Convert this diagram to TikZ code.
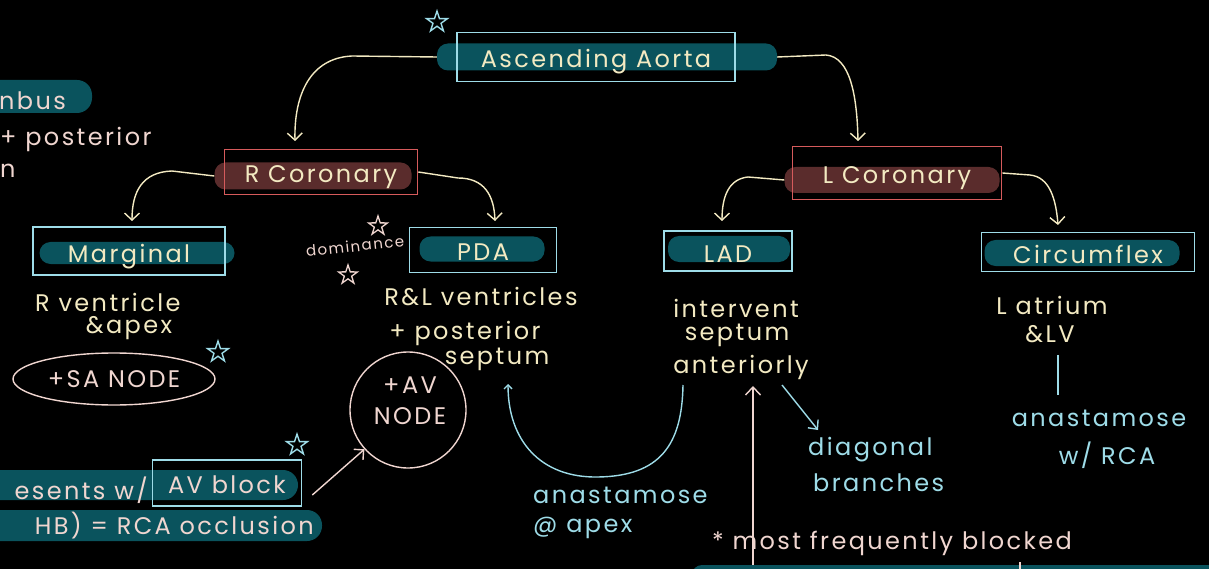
\documentclass[tikz,border=0pt]{standalone}
\usepackage{fontspec}
\setmainfont{Poppins}[LetterSpace=10]
\usetikzlibrary{arrows.meta,shapes.geometric,calc}

\definecolor{cream}{HTML}{F3EAC2}
\definecolor{pinkish}{HTML}{F0D6D0}
\definecolor{lblue}{HTML}{9EDCE8}
\definecolor{tealbg}{HTML}{0A535D}
\definecolor{maroonbg}{HTML}{5A2C2C}
\definecolor{redline}{HTML}{D65B5C}

\newcommand\lblsize{\fontsize{24}{26}\selectfont}
\newcommand\bodysize{\fontsize{24}{26}\selectfont}
\newcommand\smallsize{\fontsize{15}{17}\selectfont}

\tikzset{
  bluebox/.style={draw=lblue, line width=1.6pt, inner sep=0pt, text=cream, font=\lblsize,
    text height=22pt, text depth=0pt},
  redbox/.style={draw=redline, line width=1.6pt, inner sep=0pt, text=cream, font=\lblsize,
    text height=22pt, text depth=0pt},
  tealbar/.style={fill=tealbg, rounded corners=11pt, inner sep=0pt},
  maroonbar/.style={fill=maroonbg, rounded corners=11pt, inner sep=0pt},
  conn/.style={draw=cream, line width=1.4pt, -{Straight Barb[length=7pt,width=15pt]}},
  blueconn/.style={draw=lblue, line width=1.4pt},
  pinkconn/.style={draw=pinkish, line width=1.4pt},
  ctxt/.style={text=cream, font=\bodysize, inner sep=0pt},
  btxt/.style={text=lblue, font=\bodysize, inner sep=0pt},
  ptxt/.style={text=pinkish, font=\bodysize, inner sep=0pt},
  bstar/.style={star, star points=5, star point ratio=2.6, draw=lblue, line width=1.4pt, minimum size=22pt, inner sep=0pt},
  pstar/.style={star, star points=5, star point ratio=2.6, draw=pinkish, line width=1.3pt, minimum size=20pt, inner sep=0pt},
}

\begin{document}
\begin{tikzpicture}[x=1pt,y=-1pt]
\fill[black] (0,0) rectangle (1209,569);
\useasboundingbox (0,0) rectangle (1209,569);
\clip (0,0) rectangle (1209,569);

% ---------- top-left notes, running off the page ----------
\fill[tealbg, rounded corners=15pt] (-40,80) rectangle (92,113);
\node[ptxt, anchor=east] (tl1) at (66,101) {nbus};
\node[ptxt, anchor=west] (tl2) at (0,139) {+ posterior};
\node[ptxt, anchor=west] (tl3) at (0,171) {n};

% ---------- ascending aorta ----------
\node[tealbar, minimum width=340pt, minimum height=27pt] (aortabar) at (607,57) {};
\node[bluebox, minimum width=278pt, minimum height=49pt] (aorta) at (596,57) {Ascending Aorta};
\node[bstar] (aortastar) at (437,22) {};

% ---------- right coronary ----------
\node[maroonbar, minimum width=197pt, minimum height=27pt] (rcorbar) at (313,176) {};
\node[redbox, minimum width=193pt, minimum height=45pt] (rcor) at (321,172) {R Coronary};

% ---------- left coronary ----------
\node[maroonbar, minimum width=215pt, minimum height=26pt] (lcorbar) at (892,180) {};
\node[redbox, minimum width=209pt, minimum height=53pt] (lcor) at (897,173) {L Coronary};

\coordinate (rcorin) at (295,141);
\coordinate (lcorin) at (858,141);
\draw[conn] (aortabar.west) -- (352,56) .. controls (310,58) and (294,95) .. (rcorin);
\draw[conn] (aortabar.east) -- (826,55) .. controls (850,57) and (857,95) .. (lcorin);

% ---------- branches ----------
\node[tealbar, minimum width=195pt, minimum height=22pt] (margbar) at (137,253) {};
\node[bluebox, minimum width=192pt, minimum height=48pt] (marg) at (129,251) {Marginal};

\node[tealbar, minimum width=125pt, minimum height=25pt] (pdabar) at (482,249) {};
\node[bluebox, minimum width=147pt, minimum height=45pt] (pda) at (483,250) {PDA};

\node[tealbar, minimum width=122pt, minimum height=26pt] (ladbar) at (729,249) {};
\node[bluebox, minimum width=128pt, minimum height=40pt] (lad) at (728,251) {LAD};

\node[tealbar, minimum width=195pt, minimum height=26pt] (cxbar) at (1082,253) {};
\node[bluebox, minimum width=213pt, minimum height=39pt] (cx) at (1088,252) {Circumflex};

\coordinate (margin) at (132,221);
\coordinate (pdain) at (495,221);
\coordinate (ladin) at (722,221);
\coordinate (cxin) at (1058,225);
\draw[conn] (rcorbar.west) -- (172,171) .. controls (142,172) and (132,192) .. (margin);
\draw[conn] (rcor.east) -- (458,178) .. controls (484,178) and (494,195) .. (pdain);
\draw[conn] (lcorbar.west) -- (748,177) .. controls (729,179) and (722,196) .. (ladin);
\draw[conn] (lcor.east) -- (1030,175) .. controls (1050,177) and (1056,200) .. (cxin);

% ---------- marginal territory ----------
\node[ctxt, anchor=west] (margt1) at (35,302) {R ventricle};
\node[ctxt] (margt2) at (129,328) {\&apex};
\node[draw=pinkish, line width=1.4pt, ellipse, minimum width=202pt, minimum height=52pt, inner sep=0pt,
      text=pinkish, font=\bodysize] (sanode) at (114,379) {+SA NODE};
\node[bstar] (sastar) at (218,352) {};

% ---------- PDA territory ----------
\node[text=pinkish, font=\smallsize, inner sep=0pt, rotate=6] (dom) at (355,246) {dominance};
\node[pstar] (domstar1) at (378,226) {};
\node[pstar] (domstar2) at (348,275) {};
\node[ctxt] (pdat1) at (481,297) {R\&L ventricles};
\node[ctxt] (pdat2) at (465,333) {+ posterior};
\node[ctxt] (pdat3) at (497,359) {septum};
\node[draw=pinkish, line width=1.4pt, circle, minimum size=116pt, inner sep=0pt] (avnode) at (408,410) {};
\node[ptxt, align=center, font=\fontsize{24}{31}\selectfont] (avtxt) at (410,401) {+AV\\NODE};

% ---------- AV block note ----------
\fill[tealbg, rounded corners=15pt] (-40,470) rectangle (298,500);
\fill[tealbg, rounded corners=15pt] (-40,510) rectangle (322,541);
\node[ptxt, anchor=east] (avb1) at (148,490) {esents w/};
\node[draw=lblue, line width=1.6pt, minimum width=149pt, minimum height=46pt, inner sep=0pt,
      text=pinkish, font=\bodysize, text height=21pt, text depth=0pt] (avblock) at (227,483) {AV block};
\node[ptxt, anchor=east] (avb2) at (314,526) {HB) = RCA occlusion};
\node[bstar] (avbstar) at (297,445) {};
\draw[pinkconn, -{Straight Barb[length=7pt,width=14pt]}] (avblock.east) ++(10,12) -- (avnode.222);

% ---------- LAD territory ----------
\node[ctxt] (ladt1) at (736,308) {intervent};
\node[ctxt] (ladt2) at (737,335) {septum};
\node[ctxt] (ladt3) at (741,367) {anteriorly};
\coordinate (ladbot) at (683,385);
\coordinate (pdabot) at (508,384);
\draw[blueconn, -{Straight Barb[length=4pt,width=8pt]}] (ladbot) .. controls (682,445) and (660,476) .. (598,477)
      .. controls (540,478) and (508,440) .. (pdabot);
\node[btxt, anchor=west] (an1) at (533,495) {anastamose};
\node[btxt, anchor=west] (an2) at (533,528) {@ apex};

\coordinate (diagfrom) at (782,385);
\node[btxt, anchor=west] (diag1) at (808,450) {diagonal};
\node[btxt, anchor=west] (diag2) at (813,483) {branches};
\draw[blueconn, -{Straight Barb[length=7pt,width=13pt]}] (diagfrom) -- (818,430);

\coordinate (upfrom) at (753,575);
\coordinate (upto) at (753,386);
\draw[pinkconn, -{Straight Barb[length=8pt,width=15pt]}] (upfrom) -- (upto);
\node[ptxt] (freq) at (892,543) {* most frequently blocked};
\fill[tealbg, rounded corners=10pt] (692,565) rectangle (1240,600);
\draw[pinkconn] (1020,562) -- (1020,569);

% ---------- circumflex territory ----------
\node[ctxt] (cxt1) at (1052,305) {L atrium};
\node[ctxt] (cxt2) at (1050,334) {\&LV};
\draw[blueconn] (cxt2.south) ++(8,12) -- ++(0,40) coordinate (cxline);
\node[btxt] (cxan1) at (1099,418) {anastamose};
\node[btxt] (cxan2) at (1107,455) {w/ RCA};

\end{tikzpicture}
\end{document}
